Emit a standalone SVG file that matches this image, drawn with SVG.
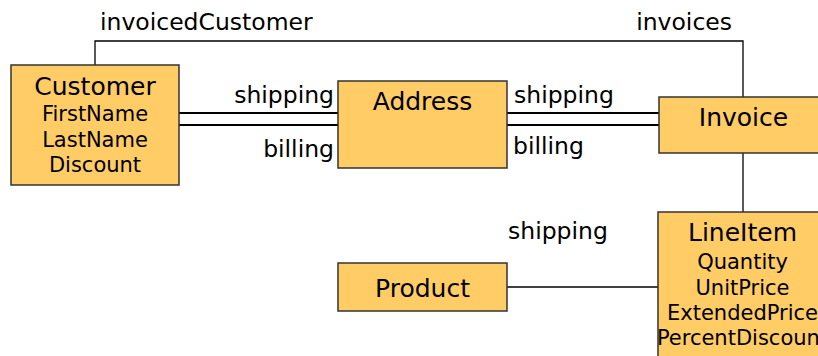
<svg xmlns="http://www.w3.org/2000/svg" width="818" height="356" viewBox="0 0 818 356">
<style>
.box{fill:#FFCC66;stroke:#333333;stroke-width:1.5}
.t{font-family:"DejaVu Sans",sans-serif;font-size:25px;fill:#000;text-anchor:middle}
.a{font-family:"DejaVu Sans",sans-serif;font-size:21px;fill:#000;text-anchor:middle}
.l{font-family:"DejaVu Sans",sans-serif;font-size:23.5px;fill:#000}
.c{fill:none;stroke:#000;stroke-width:1.3}
.d{fill:none;stroke:#000;stroke-width:2}
</style>
<rect width="818" height="356" fill="#fff"/>
<g id="connectors">
<polyline class="c" points="95,65 95,41 743,41 743,97"/>
<line class="d" x1="179" y1="113" x2="338" y2="113"/>
<line class="d" x1="179" y1="125" x2="338" y2="125"/>
<line class="d" x1="507" y1="113" x2="659" y2="113"/>
<line class="d" x1="507" y1="125" x2="659" y2="125"/>
<line class="c" x1="743" y1="153" x2="743" y2="212"/>
<line class="c" x1="507" y1="287" x2="658" y2="287"/>
<text class="l" x="100" y="30">invoicedCustomer</text>
<text class="l" x="732" y="30" text-anchor="end">invoices</text>
<text class="l" x="334" y="103" text-anchor="end">shipping</text>
<text class="l" x="334" y="157" text-anchor="end">billing</text>
<text class="l" x="514" y="103">shipping</text>
<text class="l" x="513" y="154">billing</text>
<text class="l" x="508" y="239">shipping</text>
</g>
<g id="Customer">
<rect class="box" x="11" y="65" width="168" height="120"/>
<text class="t" x="95" y="95">Customer</text>
<text class="a" x="95" y="121">FirstName</text>
<text class="a" x="95" y="147">LastName</text>
<text class="a" x="95" y="172">Discount</text>
</g>
<g id="Address">
<rect class="box" x="338" y="81" width="169" height="87"/>
<text class="t" x="422.5" y="110">Address</text>
</g>
<g id="Invoice">
<rect class="box" x="659" y="97" width="169" height="56"/>
<text class="t" x="743.5" y="126">Invoice</text>
</g>
<g id="LineItem">
<rect class="box" x="658" y="212" width="169" height="150"/>
<text class="t" x="742.5" y="241">LineItem</text>
<text class="a" x="742.5" y="269">Quantity</text>
<text class="a" x="742.5" y="295">UnitPrice</text>
<text class="a" x="742.5" y="320">ExtendedPrice</text>
<text class="a" x="742.5" y="345">PercentDiscount</text>
</g>
<g id="Product">
<rect class="box" x="338" y="263" width="169" height="48"/>
<text class="t" x="422.5" y="297">Product</text>
</g>
</svg>
